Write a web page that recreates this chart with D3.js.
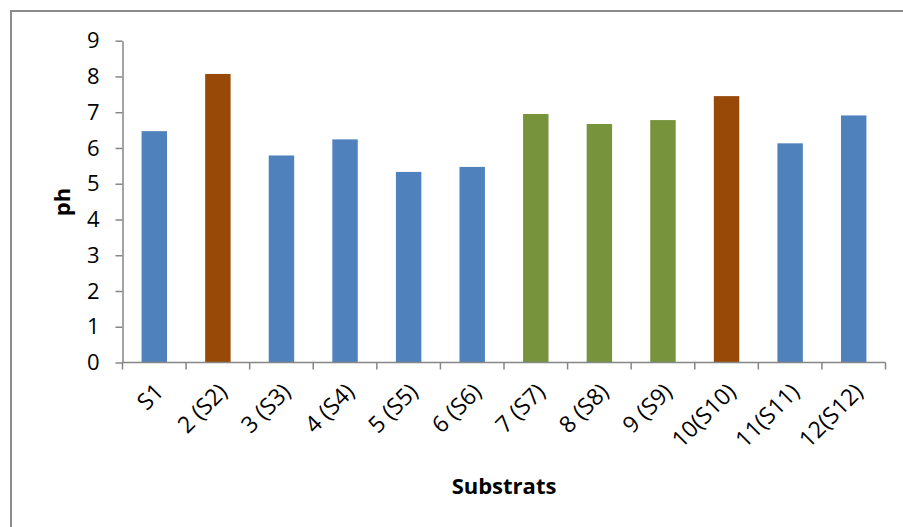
<!DOCTYPE html>
<html>
<head>
<meta charset="utf-8">
<script src="https://cdn.jsdelivr.net/npm/d3@7/dist/d3.min.js"></script>
<style>
  html, body { margin: 0; padding: 0; background: #fff; }
  svg { display: block; }
  text { font-family: "Open Sans", sans-serif; fill: #000; }
</style>
</head>
<body>
<svg id="chart" width="903" height="527"></svg>
<script>
// pH measured for each substrate
const categories = ["S1", "2 (S2)", "3 (S3)", "4 (S4)", "5 (S5)", "6 (S6)",
                    "7 (S7)", "8 (S8)", "9 (S9)", "10(S10)", "11(S11)", "12(S12)"];
const phValues = [6.47, 8.07, 5.79, 6.24, 5.33, 5.47, 6.95, 6.67, 6.78, 7.45, 6.13, 6.91];
// colour group of each bar
const groups = ["blue", "brown", "blue", "blue", "blue", "blue",
                "green", "green", "green", "brown", "blue", "blue"];
const yTicks = [0, 1, 2, 3, 4, 5, 6, 7, 8, 9];

const palette = { blue: "#4F81BD", brown: "#984807", green: "#77933C" };

const svg = d3.select("#chart");
const plot = { left: 122.5, right: 885.5, top: 40.7, bottom: 362.5 };

// outer frame
svg.append("rect")
  .attr("x", 11).attr("y", 11)
  .attr("width", 910).attr("height", 540)
  .attr("fill", "none")
  .attr("stroke", "#8c8c8c")
  .attr("stroke-width", 2);

const x = d3.scaleBand()
  .domain(categories)
  .range([plot.left, plot.right])
  .paddingInner(0.6)
  .paddingOuter(0.3);

const y = d3.scaleLinear()
  .domain([0, 9])
  .range([plot.bottom, plot.top]);

// bars
svg.append("g")
  .selectAll("rect")
  .data(categories)
  .join("rect")
  .attr("x", d => x(d))
  .attr("width", x.bandwidth())
  .attr("y", (d, i) => y(phValues[i]))
  .attr("height", (d, i) => y(0) - y(phValues[i]))
  .attr("fill", (d, i) => palette[groups[i]]);

// y axis
const yAxis = svg.append("g")
  .attr("transform", `translate(${plot.left},0)`)
  .call(d3.axisLeft(y).tickValues(yTicks).tickFormat(d3.format("d")).tickSizeInner(7).tickSizeOuter(0).tickPadding(16));
yAxis.select(".domain").attr("stroke", "#868686").attr("stroke-width", 1.5);
yAxis.selectAll(".tick line").attr("stroke", "#868686").attr("stroke-width", 1.5);
yAxis.selectAll(".tick text")
  .attr("font-family", "Open Sans, sans-serif")
  .attr("font-size", 22)
  .attr("fill", "#000");

// x axis: ticks sit on category boundaries
const step = x.step();
const boundaries = d3.range(categories.length + 1).map(i => plot.left + i * step);
const xAxisG = svg.append("g");
xAxisG.append("line")
  .attr("x1", plot.left).attr("x2", plot.right)
  .attr("y1", plot.bottom).attr("y2", plot.bottom)
  .attr("stroke", "#868686").attr("stroke-width", 1.5);
xAxisG.selectAll("line.tick")
  .data(boundaries)
  .join("line")
  .attr("class", "tick")
  .attr("x1", d => d).attr("x2", d => d)
  .attr("y1", plot.bottom).attr("y2", plot.bottom + 7)
  .attr("stroke", "#868686").attr("stroke-width", 1.5);

// rotated category labels
xAxisG.selectAll("text")
  .data(categories)
  .join("text")
  .attr("transform", d => `translate(${x(d) + x.bandwidth() / 2 + 5},${plot.bottom + 25}) rotate(-45)`)
  .attr("text-anchor", "end")
  .attr("dy", "0.35em")
  .attr("font-size", 23)
  .text(d => d);

// axis titles
svg.append("text")
  .attr("transform", "translate(70,202) rotate(-90)")
  .attr("text-anchor", "middle")
  .attr("font-size", 22)
  .attr("font-weight", "bold")
  .text("ph");

svg.append("text")
  .attr("x", 504).attr("y", 494)
  .attr("text-anchor", "middle")
  .attr("font-size", 22)
  .attr("font-weight", "bold")
  .text("Substrats");
</script>
</body>
</html>
